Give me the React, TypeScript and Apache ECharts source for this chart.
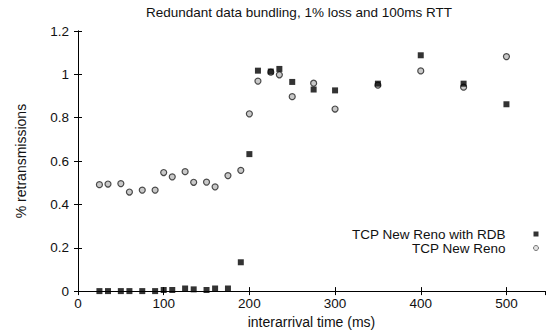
import React, { useEffect, useRef } from "react";
import * as echarts from "echarts";

const interarrival = [25, 35, 50, 60, 75, 90, 100, 110, 125, 135, 150, 160, 175, 190, 200, 210, 225, 235, 250, 275, 300, 350, 400, 450, 500];
const rdbValues = [0, 0, 0, 0, 0, 0, 0.005, 0.005, 0.012, 0.008, 0.005, 0.012, 0.012, 0.133, 0.632, 1.017, 1.013, 1.025, 0.965, 0.93, 0.926, 0.957, 1.088, 0.957, 0.862];
const renoValues = [0.491, 0.494, 0.496, 0.457, 0.466, 0.466, 0.547, 0.527, 0.551, 0.502, 0.503, 0.481, 0.533, 0.557, 0.818, 0.969, 1.01, 0.998, 0.897, 0.959, 0.84, 0.95, 1.016, 0.941, 1.082];
const xTicks = [0, 100, 200, 300, 400, 500];
const yTicks = [0, 0.2, 0.4, 0.6, 0.8, 1, 1.2];

const FONT = "Liberation Sans, Arial, sans-serif";

export default function App() {
  const ref = useRef<HTMLDivElement>(null);
  useEffect(() => {
    if (!ref.current) return;
    const chart = echarts.init(ref.current, undefined, { renderer: "svg" });
    const pts = (ys: number[]) => interarrival.map((x, i) => [x, ys[i]]);
    const axisCommon = {
      axisLine: { show: true, lineStyle: { color: "#000", width: 1 } },
      axisTick: { show: true, inside: true, length: 4, lineStyle: { color: "#000" } },
      splitLine: { show: false },
    };
    chart.setOption({
      animation: false,
      backgroundColor: "#fff",
      title: {
        text: "Redundant data bundling, 1% loss and 100ms RTT",
        left: 141,
        top: 0,
        textStyle: { fontFamily: FONT, fontSize: 13.5, fontWeight: "normal", color: "#111" },
      },
      grid: { left: 78, right: 2, top: 31, bottom: 36 },
      legend: {
        orient: "vertical",
        right: 3,
        top: 222,
        align: "right",
        itemWidth: 5,
        itemHeight: 5,
        itemGap: 0,
        textStyle: { fontFamily: FONT, fontSize: 13.5, color: "#111", lineHeight: 14, padding: [0, 23, 0, 0] },
        data: [
          { name: "TCP New Reno with RDB", icon: "rect" },
          { name: "TCP New Reno", icon: "circle", itemStyle: { color: "#ddd", borderColor: "#555", borderWidth: 1 } },
        ],
      },
      xAxis: [
        {
          type: "value",
          min: 0,
          max: 545,
          interval: 100,
          name: "interarrival time (ms)",
          nameLocation: "middle",
          nameGap: 21,
          nameTextStyle: { fontFamily: FONT, fontSize: 14, color: "#111" },
          ...axisCommon,
          axisLabel: {
            fontFamily: FONT,
            fontSize: 13.5,
            color: "#111",
            margin: 5,
            showMaxLabel: false,
            formatter: (v: number) => (xTicks.includes(v) ? String(v) : ""),
          },
        },
        {
          type: "value",
          position: "top",
          min: 0,
          max: 545,
          interval: 100,
          ...axisCommon,
          axisLabel: { show: false },
        },
      ],
      yAxis: [
        {
          type: "value",
          min: 0,
          max: 1.2,
          interval: 0.2,
          name: "% retransmissions",
          nameLocation: "middle",
          nameGap: 50,
          nameTextStyle: { fontFamily: FONT, fontSize: 14, color: "#111" },
          ...axisCommon,
          axisLabel: {
            fontFamily: FONT,
            fontSize: 13.5,
            color: "#111",
            margin: 9,
            formatter: (v: number) => {
              const t = yTicks.find((y) => Math.abs(y - v) < 1e-9);
              return t === undefined ? "" : String(t);
            },
          },
        },
        {
          type: "value",
          position: "right",
          min: 0,
          max: 1.2,
          interval: 0.2,
          ...axisCommon,
          axisLabel: { show: false },
        },
      ],
      series: [
        {
          name: "TCP New Reno with RDB",
          type: "scatter",
          symbol: "rect",
          symbolSize: 6,
          itemStyle: { color: "#000" },
          data: pts(rdbValues),
          z: 3,
        },
        {
          name: "TCP New Reno",
          type: "scatter",
          symbol: "circle",
          symbolSize: 6,
          itemStyle: { color: "#bbb", borderColor: "#222", borderWidth: 1.2 },
          data: pts(renoValues),
          z: 2,
        },
      ],
    });
    return () => chart.dispose();
  }, []);
  return <div ref={ref} style={{ width: 547, height: 334, position: "absolute", left: 0, top: 0 }} />;
}
